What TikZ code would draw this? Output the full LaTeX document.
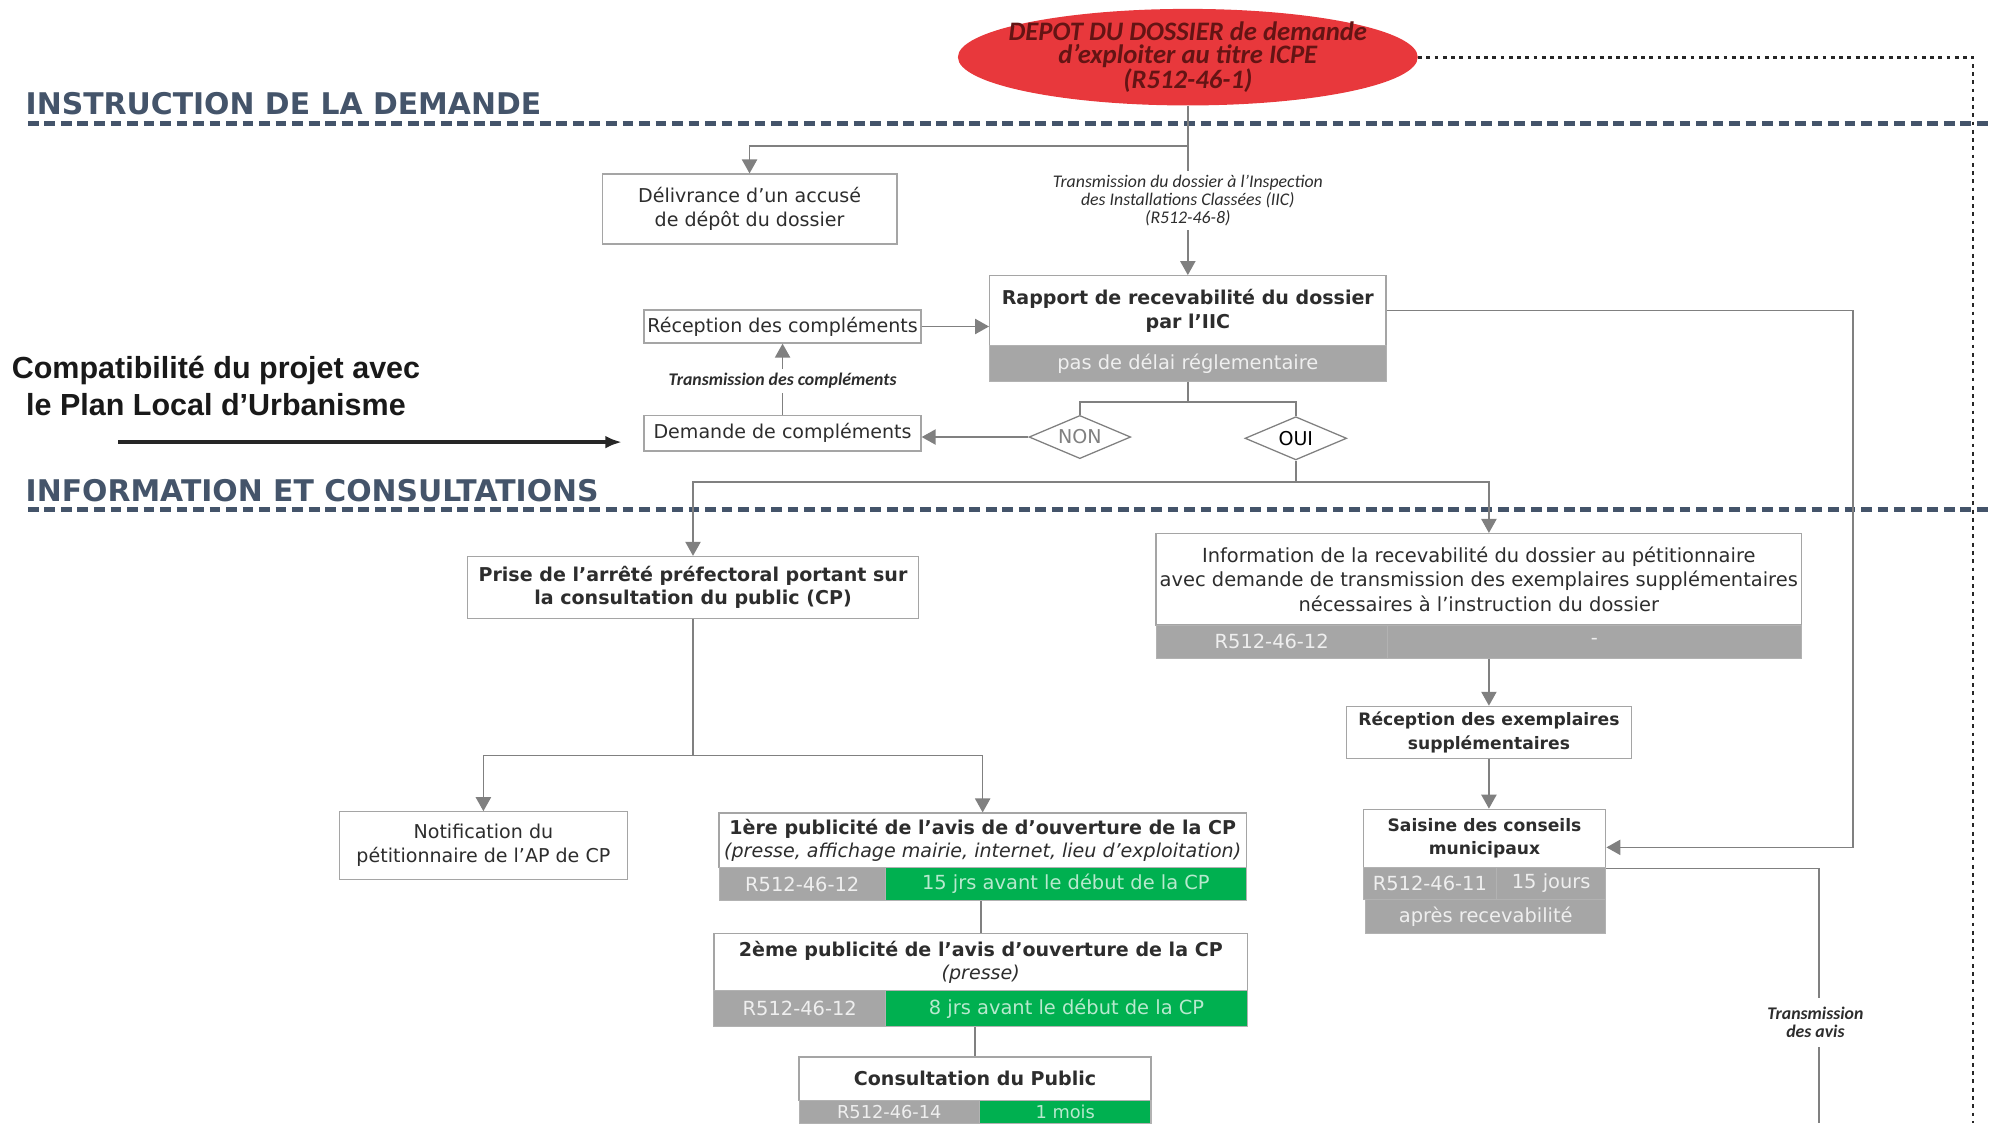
\documentclass[tikz,border=0pt]{standalone}
\usepackage{fontspec}
\setmainfont{DejaVu Sans}
\newfontfamily\calib{Carlito}
\newfontfamily\arialf{Liberation Sans}
\usetikzlibrary{arrows.meta,shapes.geometric}
\definecolor{ardoise}{RGB}{68,84,106}
\definecolor{rouge}{RGB}{232,56,60}
\definecolor{brun}{RGB}{100,20,20}
\definecolor{barre}{RGB}{166,166,166}
\definecolor{vert}{RGB}{0,176,80}
\definecolor{trait}{RGB}{128,128,128}
\definecolor{bord}{RGB}{165,165,165}
\definecolor{encre}{RGB}{45,45,45}
\newcommand{\fsz}[2]{\fontsize{#1}{#2}\selectfont}

\begin{document}
\begin{tikzpicture}[x=1pt,y=-1pt]
  \tikzstyle{box}=[rectangle,draw=bord,fill=white,line width=1pt,align=center,text=encre,inner sep=0pt,font=\fsz{15}{18.5}]
  \tikzstyle{bbox}=[box,font=\bfseries\fsz{15}{18.5}]
  \tikzstyle{greybar}=[rectangle,fill=barre,draw=black!30,line width=0.8pt,text=white!82!barre,inner sep=0pt,font=\fsz{15.3}{17}]
  \tikzstyle{greenbar}=[greybar,fill=vert,text=white!72!vert]
  \tikzstyle{choice}=[diamond,draw=trait,fill=white,line width=1pt,aspect=2.35,minimum width=80pt,minimum height=34pt,inner sep=0pt,font=\fsz{15}{17}]
  \tikzstyle{link}=[draw=trait,line width=1.2pt]
  \tikzstyle{arrowlink}=[link,-{Triangle[width=12pt,length=11pt]}]
  \tikzstyle{note}=[align=center,text=encre,font=\calib\itshape\fsz{14}{14}]
  \tikzstyle{heading}=[anchor=base west,inner sep=0pt,text=ardoise,font=\bfseries\fsz{23.5}{25}]
  \tikzstyle{section}=[draw=ardoise,line width=3.8pt,dash pattern=on 8.5pt off 4.5pt]
  \tikzstyle{dots}=[draw=black!85,line width=2.2pt,dash pattern=on 3pt off 3.5pt]
  \tikzstyle{bigarrow}=[draw=black!85,line width=3pt,-{Latex[width=10pt,length=13pt]}]

  \useasboundingbox (0,0) rectangle (1568,884);
  \clip (0,0) rectangle (1568,884);

  \node[heading] (instr) at (20,90) {INSTRUCTION DE LA DEMANDE};
  \node[heading] (infcons) at (20,395) {INFORMATION ET CONSULTATIONS};
  \draw[section] (22,97) -- (1568,97);
  \draw[section] (22,401) -- (1568,401);

  \node[ellipse,fill=rouge,minimum width=362pt,minimum height=76pt,inner sep=0pt] (depot) at (935,45) {};
  \node[align=center,text=brun,font=\calib\bfseries\itshape\fsz{21}{18.5}] (depottxt) at (depot.center) {DEPOT DU DOSSIER de demande\\d’exploiter au titre ICPE\\(R512-46-1)};
  \coordinate (dcorner) at (1553,45);
  \coordinate (dend) at (1553,884);

  \node[box,minimum width=232pt,minimum height=55pt] (delivr) at (590,164.5) {Délivrance d’un accusé\\de dépôt du dossier};
  \node[note] (transm) at (935,158) {Transmission du dossier à l’Inspection\\des Installations Classées (IIC)\\(R512-46-8)};
  \node[bbox,minimum width=312pt,minimum height=55pt] (rapport) at (935,244.5) {Rapport de recevabilité du dossier\\par l’IIC};
  \node[greybar,minimum width=312pt,minimum height=28pt] (rapbar) at (935,286) {pas de délai réglementaire};
  \node[box,minimum width=218pt,minimum height=26pt] (recep) at (616,257) {Réception des compléments};
  \node[note,font=\calib\bfseries\itshape\fsz{14}{14}] (trcomp) at (616,300) {Transmission des compléments};
  \node[box,minimum width=218pt,minimum height=28pt] (demande) at (616,341) {Demande de compléments};
  \node[choice,text=trait] (non) at (850,344) {NON};
  \node[choice,text=black] (oui) at (1020,345) {OUI};

  \node[align=center,text=black!90,font=\arialf\bfseries\fsz{24}{29}] (compat) at (170,304) {Compatibilité du projet avec\\le Plan Local d’Urbanisme};
  \coordinate (cstart) at (93,348);

  \node[bbox,minimum width=355pt,minimum height=49pt] (prise) at (545.5,462.5) {Prise de l’arrêté préfectoral portant sur\\la consultation du public (CP)};
  \node[box,font=\fsz{15.3}{19},minimum width=508pt,minimum height=72pt] (info) at (1164,456) {Information de la recevabilité du dossier au pétitionnaire\\avec demande de transmission des exemplaires supplémentaires\\nécessaires à l’instruction du dossier};
  \node[greybar,minimum width=182pt,minimum height=26pt] (infoA) at (1001,505) {R512-46-12};
  \node[greybar,minimum width=326pt,minimum height=26pt] (infoB) at (1255,505) {-};
  \node[bbox,font=\bfseries\fsz{13.5}{18.5},minimum width=224pt,minimum height=41pt] (recex) at (1172,576.5) {Réception des exemplaires\\supplémentaires};
  \node[bbox,font=\bfseries\fsz{13.5}{18.5},minimum width=191pt,minimum height=46pt] (saisine) at (1168.5,660) {Saisine des conseils\\municipaux};
  \node[greybar,minimum width=105pt,minimum height=25pt] (saiA) at (1125.5,695.5) {R512-46-11};
  \node[greybar,minimum width=86pt,minimum height=25pt] (saiB) at (1221,695.5) {15 jours};
  \node[greybar,minimum width=189pt,minimum height=27pt] (saiC) at (1169.5,721.5) {après recevabilité};
  \node[note,font=\calib\bfseries\itshape\fsz{14}{14},inner sep=7pt] (travis) at (1429,805) {Transmission\\des avis};
  \coordinate (tend) at (1432,884);

  \node[box,minimum width=227pt,minimum height=53pt] (notif) at (380.5,665.5) {Notification du\\pétitionnaire de l’AP de CP};
  \node[box,minimum width=415pt,minimum height=43pt] (pub1) at (773.5,661.5) {\textbf{1ère publicité de l’avis de d’ouverture de la CP}\\\textit{(presse, affichage mairie, internet, lieu d’exploitation)}};
  \node[greybar,minimum width=131pt,minimum height=26pt] (pub1a) at (631.5,696) {R512-46-12};
  \node[greenbar,minimum width=284pt,minimum height=26pt] (pub1b) at (839,696) {15 jrs avant le début de la CP};
  \node[box,minimum width=420pt,minimum height=45pt] (pub2) at (772,757.5) {\textbf{2ème publicité de l’avis d’ouverture de la CP}\\\textit{(presse)}};
  \node[greybar,minimum width=135pt,minimum height=28pt] (pub2a) at (629.5,794) {R512-46-12};
  \node[greenbar,minimum width=285pt,minimum height=28pt] (pub2b) at (839.5,794) {8 jrs avant le début de la CP};
  \node[bbox,minimum width=277pt,minimum height=34pt] (consult) at (767.5,849) {Consultation du Public};
  \node[greybar,font=\fsz{14}{15},minimum width=142pt,minimum height=18pt] (cons1) at (700,875) {R512-46-14};
  \node[greenbar,font=\fsz{14}{15},minimum width=135pt,minimum height=18pt] (cons2) at (838.5,875) {1 mois};

  \draw[dots] (depot.east) -- (dcorner) -- (dend);
  \draw[bigarrow,shorten >=17pt] (cstart) -- (cstart -| demande.west);

  \draw[link] (depot.south) -- (transm.north);
  \draw[arrowlink] (depot.south |- 0,115) -| (delivr.north);
  \draw[arrowlink] (transm.south) -- (rapport.north);
  \draw[arrowlink] (recep.east) -- (recep.east -| rapport.west);
  \draw[link] (demande.north) -- (trcomp.south);
  \draw[arrowlink] (trcomp.north) -- (recep.south);
  \draw[link] (rapbar.south) -- ++(0,16) coordinate (j2);
  \draw[link] (non.north) |- (j2) -| (oui.north);
  \draw[arrowlink] (non.west) -- (non.west -| demande.east);
  \draw[link] (oui.south) -- ++(0,17) coordinate (j3);
  \draw[arrowlink] (j3) -| (prise.north);
  \draw[arrowlink] (j3) -| (recex.north |- info.north);
  \draw[arrowlink] (rapport.east) -- ++(367,0) |- ([yshift=-7pt]saisine.east);
  \draw[arrowlink] (recex.north |- infoB.south) -- (recex.north);
  \draw[arrowlink] (recex.south) -- (recex.south |- saisine.north);
  \draw[link] (saisine.south east) -- (tend |- saisine.south east) -- (tend |- travis.north);
  \draw[link] (tend |- travis.south) -- (tend);
  \draw[link] (prise.south) -- ++(0,107) coordinate (j4);
  \draw[arrowlink] (j4) -| (notif.north);
  \draw[arrowlink] (j4) -| (pub1.north);
  \draw[link] (pub2.north |- pub1b.south) -- (pub2.north);
  \draw[link] (consult.north |- pub2b.south) -- (consult.north);
\end{tikzpicture}
\end{document}
